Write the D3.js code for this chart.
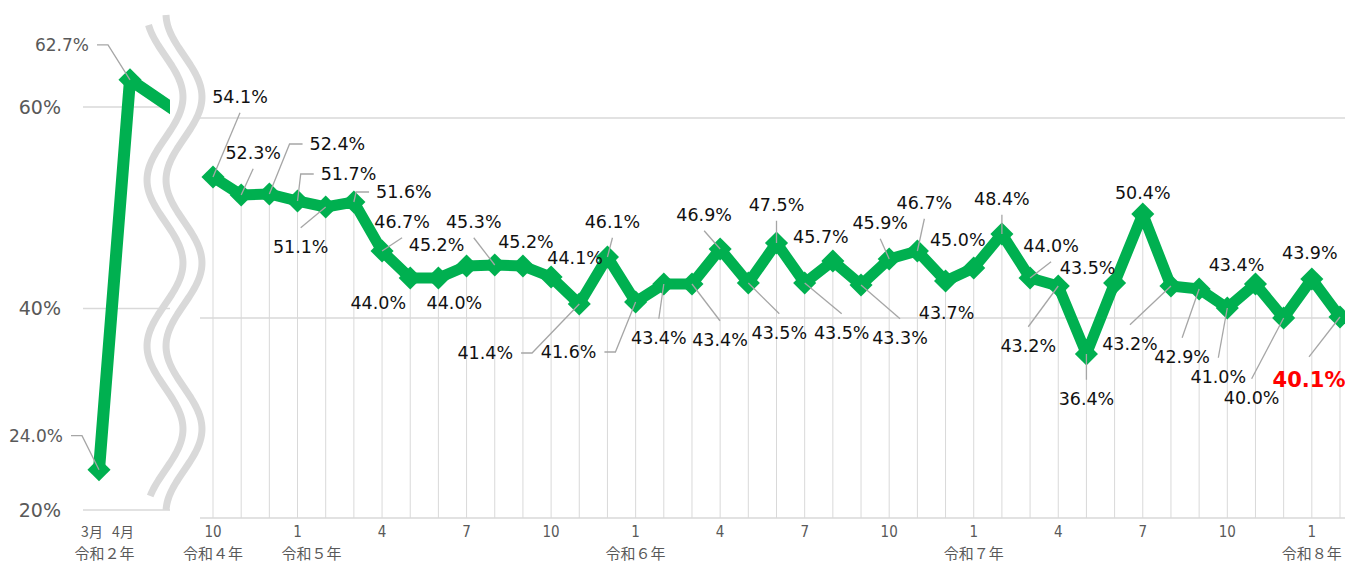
<!DOCTYPE html>
<html lang="ja">
<head>
<meta charset="UTF-8">
<title>テレワーク実施率の推移</title>
<script src="https://d3js.org/d3.v7.min.js"></script>
<style>
  body { margin: 0; background: #fff; }
  text { font-family: "DejaVu Sans", sans-serif; }
  .val { font-size: 17.5px; fill: #111; }
  .val.early { font-size: 17px; fill: #595959; }
  .val.last { font-size: 21px; font-weight: bold; fill: #ff0000; }
  .yaxis { font-size: 19px; fill: #595959; }
  .tick { font-family: "DejaVu Sans Condensed", "Liberation Sans Narrow", "DejaVu Sans", sans-serif;
          font-stretch: condensed; font-size: 15px; fill: #595959; }
  .year { font-family: "Noto Sans CJK JP", sans-serif; font-size: 15px; fill: #595959; }
  .grid { stroke: #d9d9d9; stroke-width: 1.5px; }
  .drop { stroke: #d9d9d9; stroke-width: 1px; }
  .leader { stroke: #a6a6a6; stroke-width: 1.3px; fill: none; }
  .series { fill: none; stroke: #00b050; stroke-linejoin: round; }
  .brk { fill: none; stroke: #d9d9d9; stroke-width: 7px; }
</style>
</head>
<body>
<svg width="1345" height="563"></svg>
<script>
// 令和2年 (left panel). The 6月 point sits behind the break, it only gives the slope.
const earlyMonths = [3, 4, 6];
const earlyValues = [24.0, 62.7, 58.5];
const earlyNames = ["3月", "4月"];
const earlyYear = "令和２年";

// 令和4年10月 - 令和8年2月
const months = [10, 11, 12,
  1, 2, 3, 4, 5, 6, 7, 8, 9, 10, 11, 12,
  1, 2, 3, 4, 5, 6, 7, 8, 9, 10, 11, 12,
  1, 2, 3, 4, 5, 6, 7, 8, 9, 10, 11, 12,
  1, 2];
const values = [54.1, 52.3, 52.4,
  51.7, 51.1, 51.6, 46.7, 44.0, 44.0, 45.2, 45.3, 45.2, 44.1, 41.4, 46.1,
  41.6, 43.4, 43.4, 46.9, 43.5, 47.5, 43.5, 45.7, 43.3, 45.9, 46.7, 43.7,
  45.0, 48.4, 44.0, 43.2, 36.4, 43.5, 50.4, 43.2, 42.9, 41.0, 43.4, 40.0,
  43.9, 40.1];
const yearNames = ["令和４年", "令和５年", "令和６年", "令和７年", "令和８年"];
const yTicks = [20, 40, 60];

// label placement: [dx, dy, leader] relative to the point
const earlyLayout = [[-63, -34, "r"], [-68, -35, "r"]];
const layout = [
  [27, -80, "b"], [12, -42, "b"], [68, -50, "l"], [51, -27, "l"], [-25, 40, "t"],
  [50, -10, "l"], [20, -29, "b"], [-32, 25], [16, 25], [-30, -21],
  [-21, -43, "b"], [3, -24], [24, -19], [-94, 49, "r"], [5, -35, "b"],
  [-67, 50, "r"], [-5, 54, "t"], [28, 56, "t"], [-16, -34, "b"], [31, 50, "t"],
  [0, -38, "b"], [37, 50, "t"], [-12, -24], [39, 53, "t"], [-9, -36, "b"],
  [7, -48, "b"], [1, 32], [-16, -28], [0, -35, "b"], [21, -32, "b"],
  [-30, 60, "t"], [0, 45, "t"], [-27, -15], [0, -21], [-41, 58, "t"],
  [-17, 68, "t"], [-9, 69, "t"], [-19, -19], [-32, 80, "t"], [-2, -26],
  [-31, 63, "t"]
];

const svg = d3.select("svg");
const green = "#00b050";

// scales
const xL = d3.scaleLinear().domain([3, 4]).range([99, 130]);
const yL = d3.scaleLinear().domain([20, 60]).range([510, 107]);
const xR = d3.scaleLinear().domain([0, values.length - 1]).range([213, 1340]);
const yR = d3.scaleLinear().domain([20, 60]).range([518, 118]);

const gridG = svg.append("g");
const dataG = svg.append("g");
const leadG = svg.append("g");
const textG = svg.append("g");

// gridlines
gridG.selectAll(".gl").data(yTicks).enter().append("line")
  .attr("class", "grid")
  .attr("x1", 83).attr("x2", 170)
  .attr("y1", d => yL(d)).attr("y2", d => yL(d));
gridG.selectAll(".gr").data(yTicks).enter().append("line")
  .attr("class", "grid")
  .attr("x1", 200).attr("x2", 1345)
  .attr("y1", d => yR(d)).attr("y2", d => yR(d));

// y axis labels (left panel only)
textG.selectAll(".yaxis").data(yTicks).enter().append("text")
  .attr("class", "yaxis")
  .attr("x", 61).attr("y", d => yL(d)).attr("dy", "0.35em")
  .attr("text-anchor", "end")
  .text(d => d + "%");

// drop lines
gridG.selectAll(".drop").data(values).enter().append("line")
  .attr("class", "drop")
  .attr("x1", (d, i) => xR(i)).attr("x2", (d, i) => xR(i))
  .attr("y1", d => yR(d)).attr("y2", yR(20));

// diamond marker
const diamond = d3.symbol().type(d3.symbolDiamond2).size(340);

// left panel series, clipped before the break
svg.append("clipPath").attr("id", "clipL")
  .append("rect").attr("x", 0).attr("y", 0).attr("width", 170).attr("height", 563);
const early = earlyMonths.map((m, i) => [xL(m), yL(earlyValues[i])]);
dataG.append("path")
  .attr("class", "series")
  .attr("clip-path", "url(#clipL)")
  .attr("stroke-width", 12)
  .attr("d", d3.line()(early));
dataG.selectAll(".mkL").data(early.slice(0, 2)).enter().append("path")
  .attr("transform", d => `translate(${d[0]},${d[1]})`)
  .attr("d", diamond)
  .attr("fill", green);

// right panel series
const pts = values.map((v, i) => [xR(i), yR(v)]);
dataG.append("path")
  .attr("class", "series")
  .attr("stroke-width", 11)
  .attr("d", d3.line()(pts));
dataG.selectAll(".mkR").data(pts).enter().append("path")
  .attr("transform", d => `translate(${d[0]},${d[1]})`)
  .attr("d", diamond)
  .attr("fill", green);

// axis break: two wavy lines
function wave(cx) {
  const y0 = cx < 175 ? 25 : 15, y1 = cx < 175 ? 498 : 510;
  return d3.range(y0, y1 + 1, 3).map(y => [cx + 18 * Math.cos((y - 97) / 166 * 2 * Math.PI), y]);
}
[165, 184].forEach(cx => {
  svg.append("path").attr("class", "brk").attr("d", d3.line().curve(d3.curveBasis)(wave(cx)));
});

// value labels with leader lines
function addLabel(px, py, txt, lay, cls) {
  const [dx, dy, type] = lay;
  const cx = px + dx, cy = py + dy;
  const t = textG.append("text")
    .attr("class", cls)
    .attr("x", cx).attr("y", cy).attr("dy", "0.35em")
    .attr("text-anchor", "middle")
    .text(txt);
  const fs = parseFloat(getComputedStyle(t.node()).fontSize);
  const w = t.node().getComputedTextLength();
  let p = null;
  if (type === "b") p = [[cx, cy + fs * 0.9], [px, py]];
  if (type === "t") p = [[cx, cy - fs * 1.1], [px, py]];
  if (type === "l") p = [[cx - w / 2 - 7, cy], [cx - w / 2 - 20, cy], [px, py]];
  if (type === "r") p = [[cx + w / 2 + 8, cy], [cx + w / 2 + 19, cy], [px, py]];
  if (p) leadG.append("path").attr("class", "leader").attr("d", d3.line()(p));
}
earlyNames.forEach((n, i) => addLabel(early[i][0], early[i][1], earlyValues[i].toFixed(1) + "%", earlyLayout[i], "val early"));
values.forEach((v, i) => addLabel(pts[i][0], pts[i][1], v.toFixed(1) + "%", layout[i],
  i === values.length - 1 ? "val last" : "val"));

// x axis: months and years
textG.selectAll(".tickL").data(earlyNames).enter().append("text")
  .attr("class", "year")
  .style("font-size", "14px")
  .attr("x", (d, i) => xL(earlyMonths[i]) - 7).attr("y", 532).attr("dy", "0.35em")
  .attr("text-anchor", "middle")
  .text(d => d);
textG.append("text")
  .attr("class", "year")
  .attr("x", (xL(3) + xL(4)) / 2 - 10).attr("y", 554).attr("dy", "0.35em")
  .attr("text-anchor", "middle")
  .text(earlyYear);

const tickIdx = months.map((m, i) => i).filter(i => months[i] % 3 === 1);
textG.selectAll(".tick").data(tickIdx).enter().append("text")
  .attr("class", "tick")
  .attr("x", i => xR(i)).attr("y", 532).attr("dy", "0.35em")
  .attr("text-anchor", "middle")
  .text(i => months[i]);

const yearIdx = months.map((m, i) => i).filter(i => i === 0 || months[i] === 1);
textG.selectAll(".yr").data(yearIdx).enter().append("text")
  .attr("class", "year")
  .attr("x", (i, k) => xR(i) + (k === 1 ? 14 : 0)).attr("y", 554).attr("dy", "0.35em")
  .attr("text-anchor", "middle")
  .text((i, k) => yearNames[k]);
</script>
</body>
</html>
